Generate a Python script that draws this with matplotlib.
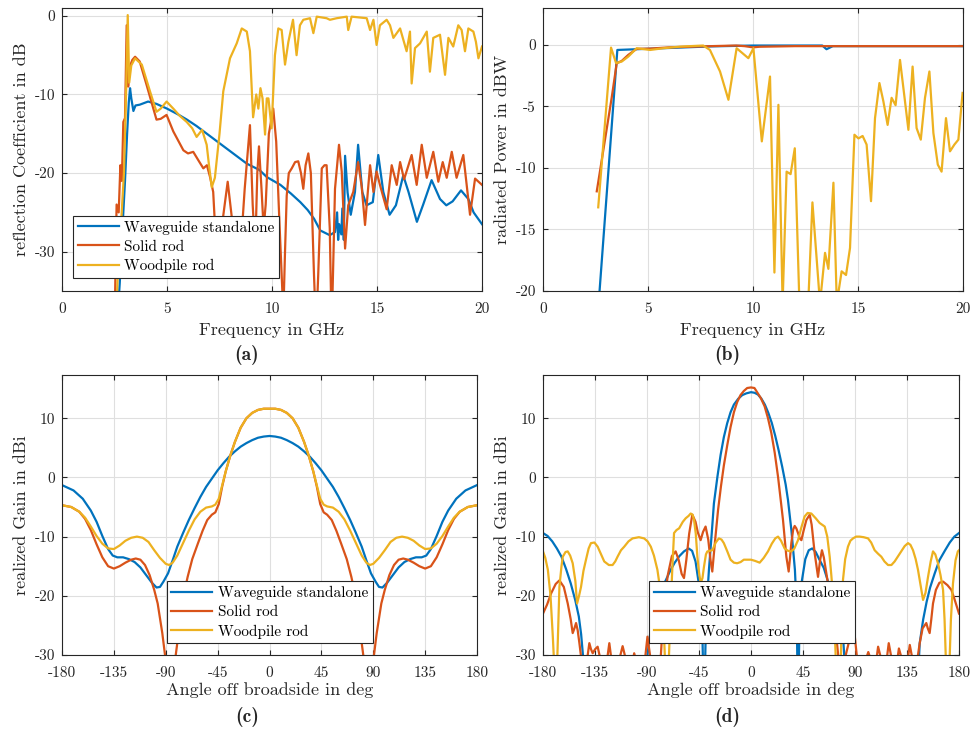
import numpy as np
import matplotlib
matplotlib.use("Agg")
import matplotlib.pyplot as plt

plt.rcParams['font.family'] = ['cmr10', 'DejaVu Serif']
plt.rcParams['axes.unicode_minus'] = False
plt.rcParams['axes.formatter.use_mathtext'] = False

# MATLAB default colours
c_wg = '#0072BD'
c_solid = '#D95319'
c_wood = '#EDB120'
labels = ['Waveguide standalone', 'Solid rod', 'Woodpile rod']

# ---------- (a) reflection coefficient ----------
fa_wg = [2.6, 2.75, 2.9, 3.0, 3.1, 3.18, 3.24, 3.3, 3.4, 3.5, 3.7, 4.1, 4.5, 5.0, 5.5, 5.95,
         6.4, 6.75, 7.2, 7.7, 8.2, 8.8, 9.4, 9.75, 10.4, 10.9, 11.35, 11.7, 12.0, 12.3, 12.75,
         13.0, 13.1, 13.15, 13.2, 13.3, 13.35, 13.42, 13.48, 13.6, 13.75, 13.95, 14.1, 14.3,
         14.5, 14.8, 15.06, 15.3, 15.6, 15.9, 16.25, 16.5, 16.9, 17.2, 17.6, 18.0, 18.3, 18.6,
         19.0, 19.35, 19.6, 20.0]
ra_wg = [-40, -34, -26, -21, -15, -11, -9.2, -10.5, -12.1, -11.4, -11.3, -10.9, -11.2, -11.8,
         -12.5, -13.2, -14.0, -14.7, -15.6, -16.6, -17.6, -18.8, -19.6, -20.5, -21.5, -22.6,
         -23.7, -24.7, -25.8, -27.3, -27.9, -27.5, -25.0, -28.5, -26.5, -27.8, -24.5, -28.5,
         -17.8, -22.5, -25.3, -22.4, -16.4, -22.4, -24.1, -23.7, -17.7, -22.4, -25.3, -24.1,
         -20.3, -22.4, -26.2, -24.0, -20.9, -23.3, -24.1, -23.6, -22.2, -23.3, -25.0, -26.5]

fa_solid = [2.5, 2.6, 2.7, 2.78, 2.85, 2.92, 3.0, 3.08, 3.15, 3.22, 3.35, 3.48, 3.7, 4.03, 4.35,
            4.5, 4.7, 4.98, 5.3, 5.78, 6.0, 6.25, 6.5, 6.73, 6.9, 7.05, 7.2, 7.35, 7.5, 7.65,
            7.89, 8.08, 8.3, 8.5, 8.7, 8.95, 9.08, 9.2, 9.3, 9.38, 9.5, 9.6, 9.7, 9.85, 10.06,
            10.2, 10.35, 10.54, 10.62, 10.7, 10.8, 10.94, 11.1, 11.25, 11.38, 11.49, 11.6, 11.73,
            11.85, 12.0, 12.1, 12.2, 12.37, 12.5, 12.6, 12.75, 12.84, 12.93, 13.0, 13.19, 13.32,
            13.48, 13.63, 13.87, 14.1, 14.27, 14.43, 14.67, 14.83, 14.98, 15.14, 15.46, 15.7,
            15.94, 16.1, 16.29, 16.65, 16.89, 17.13, 17.37, 17.68, 17.92, 18.13, 18.32, 18.56,
            18.79, 19.11, 19.43, 19.67, 20.0]
ra_solid = [-40, -24, -25, -19, -21, -13.5, -13, -1.2, -9, -6.5, -5.6, -5.2, -5.8, -8.8, -11.8,
            -13.2, -13.1, -12.6, -14.7, -17.1, -17.5, -17.3, -18.4, -19.4, -19.0, -20.5, -22.4,
            -30, -32, -26, -21.1, -25.5, -33, -30, -22, -13.9, -24, -30, -20, -16.6, -22, -27,
            -24, -15, -11.8, -16, -26, -38, -30, -22.9, -20, -19.4, -18.6, -18.5, -20, -22.0,
            -19, -17.5, -20, -33, -40, -33, -19.4, -19, -19.0, -27, -40, -30, -22, -16.4, -19.8,
            -29.6, -24.1, -22.4, -18.6, -21.7, -26.6, -19.0, -22.4, -19.8, -21.5, -24.6, -19.0,
            -21.5, -18.6, -20.8, -17.7, -21.5, -16.4, -20.6, -17.3, -21.1, -18.6, -20.6, -17.3,
            -20.6, -17.7, -25.3, -20.7, -21.5]

fa_wood = [2.55, 2.7, 2.8, 2.95, 3.05, 3.13, 3.2, 3.3, 3.48, 3.8, 4.19, 4.5, 4.7, 4.98, 5.3,
           5.6, 5.94, 6.2, 6.41, 6.67, 6.89, 7.0, 7.13, 7.28, 7.5, 7.68, 8.0, 8.32, 8.56, 8.8,
           8.95, 9.1, 9.25, 9.35, 9.45, 9.55, 9.67, 9.75, 9.83, 9.98, 10.14, 10.3, 10.46, 10.62,
           10.78, 11.0, 11.17, 11.33, 11.49, 11.81, 11.97, 12.13, 12.6, 12.76, 13.08, 13.56,
           13.63, 13.79, 14.51, 14.67, 14.83, 14.98, 15.14, 15.46, 15.62, 15.78, 15.94, 16.1,
           16.41, 16.57, 16.65, 16.81, 17.05, 17.37, 17.52, 17.68, 18.0, 18.24, 18.4, 18.63,
           18.87, 19.03, 19.19, 19.35, 19.59, 19.71, 19.83, 20.0]
ra_wood = [-40, -30, -27, -20, -10, 0.1, -8.5, -6.3, -5.4, -6.2, -9.6, -12.2, -11.8, -10.9, -11.8,
           -12.7, -13.5, -14.3, -15.4, -14.5, -16.4, -19, -21.8, -20.6, -15, -9.6, -5.4, -3.5,
           -1.6, -2.0, -4.5, -12.9, -10.0, -11.8, -9.2, -10.5, -15.1, -10.5, -10.5, -14.3, -5.0,
           -1.6, -1.8, -6.2, -3.3, -0.5, -5.0, -1.2, -0.5, -0.3, -2.2, -0.1, -0.3, -0.5, -0.3,
           -0.1, -1.8, -0.1, -0.3, -1.8, -0.5, -3.7, -1.2, -0.5, -1.2, -2.8, -2.2, -1.6, -4.5,
           -2.0, -8.6, -4.1, -3.5, -2.0, -7.1, -2.8, -2.4, -7.5, -2.8, -3.9, -1.2, -1.8, -4.5,
           -1.6, -2.0, -3.3, -5.4, -3.9]

# ---------- (b) radiated power ----------
fb_wg = [2.65, 3.54, 4.46, 6.0, 8.0, 10.0, 12.0, 13.3, 13.5, 13.8, 16.0, 20.0]
pb_wg = [-21, -0.41, -0.35, -0.25, -0.12, -0.05, -0.05, -0.05, -0.35, -0.1, -0.1, -0.1]

fb_solid = [2.56, 3.27, 3.51, 3.75, 4.06, 4.46, 5.1, 6.0, 7.0, 8.0, 9.2, 9.6, 10.0, 10.3,
            12.0, 14.0, 20.0]
pb_solid = [-11.9, -4.3, -1.49, -1.3, -0.81, -0.32, -0.3, -0.2, -0.15, -0.1, -0.05, -0.1,
            -0.2, -0.15, -0.1, -0.1, -0.1]

fb_wood = [2.63, 3.24, 3.48, 3.75, 4.06, 4.46, 5.1, 5.73, 6.52, 7.63, 7.95, 8.43, 8.83, 9.22,
           9.78, 10.02, 10.42, 10.81, 11.02, 11.21, 11.41, 11.6, 11.79, 11.99, 12.21, 12.63,
           12.83, 13.19, 13.43, 13.59, 13.83, 13.99, 14.22, 14.43, 14.62, 14.83, 15.02, 15.22,
           15.41, 15.62, 15.81, 16.02, 16.21, 16.41, 16.6, 16.79, 17.0, 17.2, 17.4, 17.6,
           17.79, 17.99, 18.19, 18.4, 18.59, 18.8, 18.98, 19.19, 19.38, 19.59, 19.78, 19.98]
pb_wood = [-13.2, -0.22, -1.48, -1.35, -0.95, -0.27, -0.41, -0.27, -0.14, -0.05, -0.41, -2.16,
           -4.46, -0.27, -1.08, -0.27, -7.84, -2.57, -18.5, -4.87, -21, -10.3, -10.5, -8.4, -21,
           -21, -12.8, -21, -16.9, -18.2, -11.2, -21, -18.4, -18.7, -16.5, -7.3, -7.6, -7.4,
           -8.1, -12.7, -5.95, -3.1, -4.6, -6.5, -4.3, -4.9, -1.22, -4.05, -6.9, -1.76, -6.76,
           -7.7, -4.3, -2.16, -7.16, -9.73, -10.3, -5.95, -8.65, -8.1, -7.7, -3.9]

# ---------- (c) gain pattern, solid/woodpile rod comparison ----------
ang_c_wg = [-180, -170, -162, -155, -150, -145, -140, -136, -132, -127, -122, -117, -112, -107,
            -102, -98, -95, -92, -88, -84, -80, -75, -70, -65, -60, -55, -50, -45, -40, -35,
            -30, -25, -20, -15, -10, -5, 0, 5, 10, 15, 20, 25, 30, 35, 40, 45, 50, 55, 60, 65,
            70, 75, 80, 84, 88, 92, 95, 98, 102, 107, 112, 117, 122, 127, 132, 136, 140, 145,
            150, 155, 162, 170, 180]
g_c_wg = [-1.3, -2.2, -3.6, -5.6, -7.5, -9.9, -12.1, -13.2, -13.5, -13.5, -13.8, -14.3, -15.2,
          -16.5, -17.8, -18.6, -18.5, -17.6, -16.2, -14.0, -11.7, -9.4, -7.2, -5.2, -3.3, -1.6,
          -0.2, 1.2, 2.4, 3.5, 4.4, 5.2, 5.8, 6.3, 6.7, 6.9, 7.0, 6.9, 6.7, 6.3, 5.8, 5.2, 4.4,
          3.5, 2.4, 1.2, -0.2, -1.6, -3.3, -5.2, -7.2, -9.4, -11.7, -14.0, -16.2, -17.6, -18.5,
          -18.6, -17.8, -16.5, -15.2, -14.3, -13.8, -13.5, -13.5, -13.2, -12.1, -9.9, -7.5,
          -5.6, -3.6, -2.2, -1.3]

ang_c_rod = [-180, -172, -165, -160, -155, -150, -145, -140, -135, -130, -125, -120, -116, -112,
             -108, -104, -100, -97, -93, -90, -86, -82, -79, -77, -74, -71, -67, -62, -58, -54,
             -50, -47, -44, -41, -38, -34, -30, -25, -20, -15, -10, -5, 0, 5, 10, 15, 20, 25,
             30, 34, 38, 41, 44, 47, 50, 54, 58, 62, 67, 71, 74, 77, 79, 82, 86, 90, 93, 97,
             100, 104, 108, 112, 116, 120, 125, 130, 135, 140, 145, 150, 155, 160, 165, 172, 180]
g_c_solid = [-4.7, -5.0, -5.8, -7.0, -8.9, -11.3, -13.5, -15.0, -15.4, -15.0, -14.4, -13.9, -13.7,
             -13.9, -14.8, -16.5, -19.0, -21.3, -26.3, -31, -40, -31, -26.5, -23, -19.5, -16.8,
             -13.8, -11.1, -9.0, -7.2, -6.3, -5.9, -4.5, -1.5, 1.0, 3.7, 6.0, 8.4, 10.0, 10.9,
             11.4, 11.6, 11.6, 11.6, 11.4, 10.9, 10.0, 8.4, 6.0, 3.7, 1.0, -1.5, -4.5, -5.9,
             -6.3, -7.2, -9.0, -11.1, -13.8, -16.8, -19.5, -23, -26.5, -31, -40, -31, -26.3,
             -21.3, -19.0, -16.5, -14.8, -13.9, -13.7, -13.9, -14.4, -15.0, -15.4, -15.0, -13.5,
             -11.3, -8.9, -7.0, -5.8, -5.0, -4.7]

ang_c_wood = [-180, -172, -165, -160, -155, -150, -145, -140, -135, -130, -125, -120, -115, -110,
              -105, -100, -95, -90, -87, -84, -80, -75, -70, -65, -60, -55, -50, -47, -44, -41,
              -38, -34, -30, -25, -20, -15, -10, -5, 0, 5, 10, 15, 20, 25, 30, 34, 38, 41, 44,
              47, 50, 55, 60, 65, 70, 75, 80, 84, 87, 90, 95, 100, 105, 110, 115, 120, 125, 130,
              135, 140, 145, 150, 155, 160, 165, 172, 180]
g_c_wood = [-4.7, -5.0, -5.8, -6.8, -8.3, -9.9, -11.2, -12.0, -12.1, -11.5, -10.7, -10.2, -10.0,
            -10.2, -10.9, -12.3, -13.6, -14.6, -14.8, -14.4, -13.2, -11.1, -9.0, -7.1, -5.8,
            -5.1, -4.9, -4.6, -3.6, -1.3, 1.0, 3.7, 6.0, 8.4, 10.0, 10.9, 11.4, 11.6, 11.6, 11.6,
            11.4, 10.9, 10.0, 8.4, 6.0, 3.7, 1.0, -1.3, -3.6, -4.6, -4.9, -5.1, -5.8, -7.1,
            -9.0, -11.1, -13.2, -14.4, -14.8, -14.6, -13.6, -12.3, -10.9, -10.2, -10.0, -10.2,
            -10.7, -11.5, -12.1, -12.0, -11.2, -9.9, -8.3, -6.8, -5.8, -5.0, -4.7]

# ---------- (d) gain pattern, second configuration ----------
ang_d_wg = [-180, -176, -172, -168, -164, -160, -156, -152, -149, -147, -145, -143, -92, -89.6,
            -87, -84, -80, -75, -70, -66, -62, -58, -54, -51, -48, -45.5, -43.6, -42, -40.7,
            -39, -37.5, -36.4, -34, -32.1, -29, -26.3, -23.5, -20.6, -17.7, -14.8, -11, -7.6,
            -4, 0, 3, 6, 9, 12, 15, 18, 21, 24, 27, 30, 32, 35, 38, 39.5, 40.7, 42, 44, 47, 50,
            53, 56, 59, 63, 67, 70, 73, 76, 80, 84, 143, 146, 149, 152, 155, 159, 163, 168, 172,
            176, 180]
g_d_wg = [-9.4, -9.9, -10.8, -12.0, -13.4, -15.5, -17.9, -20.8, -23.5, -26.5, -31, -40, -40,
          -30, -26, -23, -20.0, -17.9, -15.8, -14.4, -13.3, -12.5, -12.0, -12.4, -14.2, -17.5,
          -21.3, -27, -40, -25, -19, -15.6, -9.5, -4.4, 0.2, 3.8, 6.8, 9.15, 11.0, 12.3, 13.3,
          13.9, 14.2, 14.4, 14.3, 14.0, 13.3, 12.3, 10.9, 9.2, 7.0, 4.5, 1.8, -1.2, -3.8, -9.0,
          -15.6, -22, -40, -24, -17.5, -13.8, -12.3, -12.0, -12.6, -13.8, -15.3, -17.8, -20.4,
          -23, -25.5, -28, -40, -40, -28, -24, -21.0, -18.6, -16.2, -14.0, -12.3, -11.0, -10.0,
          -9.4]

ang_d_solid = [-180, -176.5, -173, -169, -165.8, -162, -158.6, -156, -154.3, -152.8, -151.4,
               -150, -148.5, -146, -144.2, -142, -139.9, -138.5, -137, -134.8, -132.7, -130,
               -128, -124, -122.6, -120, -116, -113, -111.1, -108, -104, -101.1, -98, -93,
               -89.6, -86, -81, -78, -75.5, -72, -68.5, -65.2, -62.5, -60, -58, -56, -53.5,
               -50.8, -48, -46, -43.6, -41.5, -39.3, -37, -35, -33.5, -31, -28.5, -26, -23.5,
               -20.5, -17.7, -14.8, -12, -9.1, -6.2, -3.3, 0, 3, 5.6, 8.5, 11.8, 14.7, 17.6,
               20.5, 23.4, 25.5, 27.7, 29.2, 30.6, 32.6, 33.8, 34.9, 36.5, 37.8, 39.2, 40.7,
               42.2, 43.6, 45.5, 47.9, 50.8, 52.5, 55.1, 58, 59.8, 61.4, 63, 65.2, 67.5, 69.5,
               71.5, 73.8, 76, 79, 82, 84.5, 87, 89.7, 92, 95, 99, 101.5, 104, 107, 110, 113,
               116, 119.2, 122, 125, 128, 131, 134, 137.4, 140, 143, 146, 148.5, 151.7, 153,
               154.6, 156, 157.5, 160, 163, 166.2, 170, 173.4, 176, 180]
g_d_solid = [-23, -21.5, -19.6, -18.0, -17.4, -18.5, -21.3, -24, -26.3, -25.5, -24.6, -25.8, -28,
             -32, -33, -31, -28, -29, -29.7, -29, -28.6, -31, -33, -30, -28, -32, -33, -30, -28.5,
             -31, -33, -29.7, -32, -33, -26.9, -32, -34, -30, -22, -16.5, -13.3, -12.5, -14.0,
             -16.3, -17.0, -14.0, -9.5, -6.3, -7.5, -9.3, -10.6, -9.2, -8.3, -10.5, -14.0, -15.9,
             -10.5, -5.5, -1.5, 2.0, 5.5, 8.5, 11.0, 12.7, 13.9, 14.6, 15.1, 15.2, 15.1, 14.3,
             13.4, 12.0, 10.0, 7.5, 4.2, 0.1, -3.5, -7.2, -10.5, -13.4, -15.9, -13.5, -11.1,
             -8.8, -8.2, -8.6, -9.4, -10.3, -10.6, -9.0, -7.2, -6.3, -8.0, -12.8, -16.8, -14.0,
             -12.3, -13.5, -16.2, -19, -21.3, -24, -26.9, -31, -33, -30, -28, -27.5, -26.6, -31,
             -34, -31, -29.5, -31, -33, -28.6, -31, -33, -28, -31, -33, -28.9, -31, -33, -28.3,
             -31, -32, -28, -25.5, -24.6, -25.5, -26.3, -24, -21.3, -19, -17.8, -17.6, -18.2,
             -19.0, -20.5, -23]

ang_d_wood = [-180, -178, -175.8, -173.5, -171.5, -170, -168, -165.8, -164, -162.9, -160.5,
              -158.6, -156.5, -154.3, -152, -150.5, -148.8, -147.1, -145, -142.8, -140.5, -138.5,
              -135.5, -132.7, -130, -127, -123, -119.8, -117.5, -115.5, -112.5, -109.7, -106,
              -102.5, -97, -92.5, -89.5, -86.7, -84, -81, -78.5, -76.7, -75, -74, -71.5, -69.4,
              -68, -66.6, -64.5, -62.2, -59, -56.5, -54, -52.2, -50.5, -49.3, -47.8, -46.4, -45,
              -43.6, -42, -40.7, -39, -37.8, -35.5, -33.5, -30.5, -27.8, -25.5, -23.5, -20.5,
              -17.7, -14.8, -12, -9, -6.2, -3, 0, 3.5, 7.5, 11, 14.7, 18, 21, 23.4, 26, 29.1, 32,
              34.9, 37.5, 40.7, 43.5, 46.4, 49, 52.2, 56, 59.4, 63.8, 66, 68.1, 69.5, 71, 72.5,
              73.8, 77.5, 78.5, 79.6, 81.5, 83.9, 86, 88.3, 91, 94, 97.5, 101.3, 104, 107, 110,
              112.8, 115.5, 118.6, 121.5, 124.3, 127, 130.1, 133, 135.9, 138, 140.2, 142.5, 144.5,
              147, 148.9, 151, 153.2, 155.5, 157.5, 159.5, 161.8, 164, 166.2, 167.5, 169, 171.5,
              173, 174.8, 177, 179, 180]
g_d_wood = [-12.5, -13.6, -15.6, -20, -26.9, -33, -33, -18.5, -15.0, -13.4, -12.6, -12.5, -13.2,
            -14.5, -17.5, -21.3, -20.0, -18.5, -15.8, -13.9, -12.0, -11.1, -11.0, -11.7, -12.9,
            -14.2, -14.8, -14.8, -14.2, -13.4, -12.3, -11.7, -10.8, -10.3, -10.1, -10.3, -10.8,
            -11.7, -13.2, -15.6, -19, -23, -28, -33, -33, -21.3, -15, -9.4, -8.9, -8.6, -7.5,
            -6.9, -6.5, -6.1, -6.3, -7.2, -9.5, -13.4, -16, -17.9, -17.0, -15.1, -13.0, -12.5,
            -12.4, -12.3, -11.0, -10.3, -10.5, -11.1, -12.5, -13.9, -14.4, -14.5, -14.3, -13.9,
            -13.9, -13.9, -14.1, -14.4, -13.6, -12.5, -11.2, -10.3, -10.0, -10.7, -12.0, -12.4,
            -12.5, -12.0, -10.6, -8.5, -6.6, -6.0, -6.1, -6.9, -7.7, -8.3, -10.0, -13.4, -16.5,
            -20.1, -26, -33, -33, -24, -17.3, -13.8, -11.7, -10.7, -10.3, -10.0, -10.0, -10.1,
            -10.3, -11.0, -12.3, -12.9, -13.4, -14.2, -14.8, -14.8, -14.2, -13.4, -12.5, -11.6,
            -11.1, -11.4, -12.3, -13.8, -15.6, -18.5, -20.7, -19.5, -16.8, -14.2, -12.5, -13.0,
            -14.5, -16.5, -19.0, -24, -33, -33, -24, -17.9, -14.0, -12.5, -12.3]

freq_ticks = [0, 5, 10, 15, 20]
ang_ticks = [-180, -135, -90, -45, 0, 45, 90, 135, 180]

W, H = 980, 729
fig = plt.figure(figsize=(W / 100, H / 100), dpi=100)
txt_col = '#262626'


def add_ax(x0, y0, x1, y1):
    # pixel box -> figure fraction
    ax = fig.add_axes([x0 / W, 1 - y1 / H, (x1 - x0) / W, (y1 - y0) / H])
    ax.grid(True, color='#dfdfdf', linewidth=0.8)
    ax.set_axisbelow(True)
    for s in ax.spines.values():
        s.set_color(txt_col)
        s.set_linewidth(0.8)
    ax.tick_params(direction='in', top=True, right=True, length=3.5, width=0.8,
                   color=txt_col, labelcolor=txt_col, labelsize=11, pad=5)
    ax.tick_params(axis='x', pad=8)
    return ax


def style_legend(ax, anchor):
    leg = ax.legend(loc='lower left', bbox_to_anchor=anchor, borderaxespad=0,
                    fontsize=11, handlelength=2.7, fancybox=False, framealpha=1,
                    edgecolor=txt_col, borderpad=0.3, labelspacing=0.35, handletextpad=0.35)
    leg.get_frame().set_linewidth(0.8)


lw = 1.6

# (a)
ax = add_ax(62, 8, 482, 291)
ax.plot(fa_wg, ra_wg, color=c_wg, lw=lw, label=labels[0])
ax.plot(fa_solid, ra_solid, color=c_solid, lw=lw, label=labels[1])
ax.plot(fa_wood, ra_wood, color=c_wood, lw=lw, label=labels[2])
ax.set_xlim(0, 20)
ax.set_ylim(-35, 1)
ax.set_xticks(freq_ticks)
ax.set_yticks([-30, -20, -10, 0])
ax.set_xlabel('Frequency in GHz', fontsize=13, color=txt_col, labelpad=5)
ax.set_ylabel('reflection Coefficient in dB', fontsize=13, color=txt_col)
style_legend(ax, (0.026, 0.046))

# (b)
ax = add_ax(543, 8, 963, 291)
ax.plot(fb_wg, pb_wg, color=c_wg, lw=lw)
ax.plot(fb_solid, pb_solid, color=c_solid, lw=lw)
ax.plot(fb_wood, pb_wood, color=c_wood, lw=lw)
ax.set_xlim(0, 20)
ax.set_ylim(-20, 3)
ax.set_xticks(freq_ticks)
ax.set_yticks([-20, -15, -10, -5, 0])
ax.set_xlabel('Frequency in GHz', fontsize=13, color=txt_col, labelpad=5)
ax.set_ylabel('radiated Power in dBW', fontsize=13, color=txt_col)

# (c)
ax = add_ax(62, 375, 477, 655)
ax.plot(ang_c_wg, g_c_wg, color=c_wg, lw=lw, label=labels[0])
ax.plot(ang_c_rod, g_c_solid, color=c_solid, lw=lw, label=labels[1])
ax.plot(ang_c_wood, g_c_wood, color=c_wood, lw=lw, label=labels[2])
ax.set_xlim(-180, 180)
ax.set_ylim(-30, 17.3)
ax.set_xticks(ang_ticks)
ax.set_yticks([-30, -20, -10, 0, 10])
ax.set_xlabel('Angle off broadside in deg', fontsize=13, color=txt_col, labelpad=2)
ax.set_ylabel('realized Gain in dBi', fontsize=13, color=txt_col)
style_legend(ax, (0.252, 0.042))

# (d)
ax = add_ax(543, 375, 959, 655)
ax.plot(ang_d_wg, g_d_wg, color=c_wg, lw=lw, label=labels[0])
ax.plot(ang_d_solid, g_d_solid, color=c_solid, lw=lw, label=labels[1])
ax.plot(ang_d_wood, g_d_wood, color=c_wood, lw=lw, label=labels[2])
ax.set_xlim(-180, 180)
ax.set_ylim(-30, 17.3)
ax.set_xticks(ang_ticks)
ax.set_yticks([-30, -20, -10, 0, 10])
ax.set_xlabel('Angle off broadside in deg', fontsize=13, color=txt_col, labelpad=2)
ax.set_ylabel('realized Gain in dBi', fontsize=13, color=txt_col)
style_legend(ax, (0.255, 0.042))

# sub-captions
for txt, x, y in [('(a)', 247, 355), ('(b)', 727, 355), ('(c)', 247, 717), ('(d)', 727, 717)]:
    fig.text(x / W, 1 - y / H, txt, ha='center', va='center', fontsize=14,
             family=['cmb10', 'DejaVu Serif'], color=txt_col)

fig.savefig('out.png', dpi=100)
